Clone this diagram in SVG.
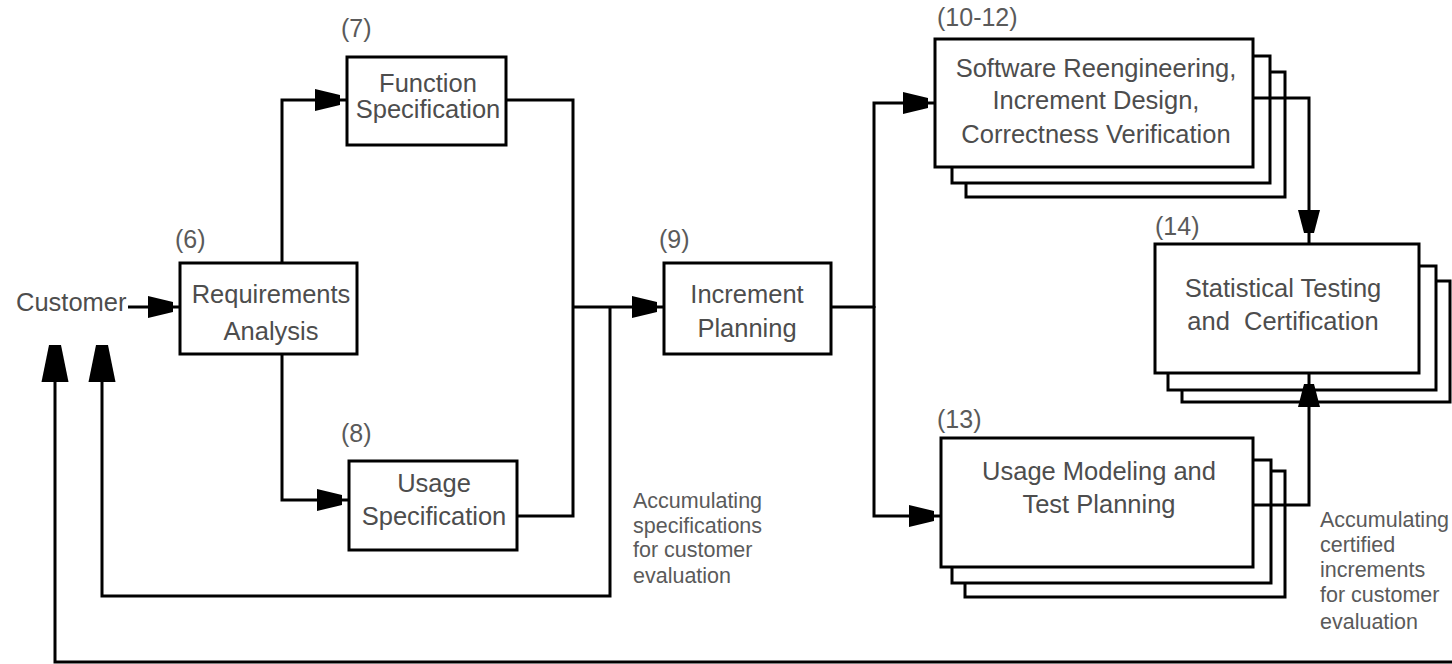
<svg xmlns="http://www.w3.org/2000/svg" width="1452" height="664" viewBox="0 0 1452 664">
  <style>
    .box { fill: #fff; stroke: #000; stroke-width: 3; }
    .wire { fill: none; stroke: #000; stroke-width: 3; stroke-linejoin: miter; }
    .t { font-family: "Liberation Sans", Arial, sans-serif; font-size: 25.5px; fill: #4d4d4d; text-anchor: middle; white-space: pre; }
    .lbl { font-family: "Liberation Sans", Arial, sans-serif; font-size: 25px; fill: #5a5a5a; }
    .note { font-family: "Liberation Sans", Arial, sans-serif; font-size: 21.5px; fill: #5a5a5a; }
    .cust { font-family: "Liberation Sans", Arial, sans-serif; font-size: 25.5px; fill: #4d4d4d; }
  </style>
  <defs>
    <!-- blunt filled arrowhead; tip sits a few px short of the path end -->
    <marker id="ah" markerUnits="userSpaceOnUse" orient="auto" viewBox="-40 -20 60 40" markerWidth="60" markerHeight="40" refX="7" refY="0">
      <path d="M0,-5 L0,5 L-25,11 L-25,-11 Z" fill="#000"/>
    </marker>
    <marker id="ahGap" markerUnits="userSpaceOnUse" orient="auto" viewBox="-40 -20 60 40" markerWidth="60" markerHeight="40" refX="11" refY="0">
      <path d="M0,-5 L0,5 L-23,11 L-23,-11 Z" fill="#000"/>
    </marker>
    <marker id="ahBig" markerUnits="userSpaceOnUse" orient="auto" viewBox="-45 -20 60 40" markerWidth="60" markerHeight="40" refX="0" refY="0">
      <path d="M0,-6 L0,6 L-37,13.5 L-37,-13.5 Z" fill="#000"/>
    </marker>
  </defs>

  <text class="cust" x="16" y="311">Customer</text>

  <g id="requirements-analysis">
    <text class="lbl" x="175" y="248">(6)</text>
    <rect class="box" x="180" y="263" width="177" height="91"/>
    <text class="t" x="271" y="303">Requirements</text>
    <text class="t" x="271" y="340">Analysis</text>
  </g>

  <g id="function-specification">
    <text class="lbl" x="341" y="37">(7)</text>
    <rect class="box" x="347" y="57" width="159" height="88"/>
    <text class="t" x="428" y="92">Function</text>
    <text class="t" x="428" y="118">Specification</text>
  </g>

  <g id="usage-specification">
    <text class="lbl" x="341" y="442">(8)</text>
    <rect class="box" x="349" y="461" width="168" height="89"/>
    <text class="t" x="434" y="492">Usage</text>
    <text class="t" x="434" y="525">Specification</text>
  </g>

  <g id="increment-planning">
    <text class="lbl" x="659" y="248">(9)</text>
    <rect class="box" x="664" y="263" width="167" height="91"/>
    <text class="t" x="747" y="303">Increment</text>
    <text class="t" x="747" y="337">Planning</text>
  </g>

  <g id="software-reengineering">
    <text class="lbl" x="937" y="26">(10-12)</text>
    <rect class="box" x="966" y="72" width="319" height="125"/>
    <rect class="box" x="952" y="56" width="318" height="127"/>
    <rect class="box" x="935" y="39" width="318" height="128"/>
    <text class="t" x="1096" y="77">Software Reengineering,</text>
    <text class="t" x="1096" y="109">Increment Design,</text>
    <text class="t" x="1096" y="143">Correctness Verification</text>
  </g>

  <g id="statistical-testing">
    <text class="lbl" x="1155" y="235">(14)</text>
    <rect class="box" x="1182" y="281" width="268" height="121"/>
    <rect class="box" x="1168" y="266" width="268" height="124"/>
    <rect class="box" x="1155" y="244" width="264" height="129"/>
    <text class="t" x="1283" y="297">Statistical Testing</text>
    <text class="t" x="1283" y="330">and  Certification</text>
  </g>

  <g id="usage-modeling">
    <text class="lbl" x="937" y="428">(13)</text>
    <rect class="box" x="965" y="471" width="320" height="126"/>
    <rect class="box" x="952" y="460" width="319" height="123"/>
    <rect class="box" x="941" y="438" width="312" height="129"/>
    <text class="t" x="1099" y="480">Usage Modeling and</text>
    <text class="t" x="1099" y="513">Test Planning</text>
  </g>

  <g id="note-specifications">
    <text class="note" x="633" y="508">Accumulating</text>
    <text class="note" x="633" y="533">specifications</text>
    <text class="note" x="633" y="557">for customer</text>
    <text class="note" x="633" y="583">evaluation</text>
  </g>

  <g id="note-increments">
    <text class="note" x="1320" y="527">Accumulating</text>
    <text class="note" x="1320" y="552">certified</text>
    <text class="note" x="1320" y="577">increments</text>
    <text class="note" x="1320" y="602">for customer</text>
    <text class="note" x="1320" y="629">evaluation</text>
  </g>

  <!-- connectors, drawn last so they run over the stacked back sheets -->
  <g id="connectors">
    <path class="wire" d="M128,307 H180" marker-end="url(#ah)"/>
    <path class="wire" d="M282,263 V100 H347" marker-end="url(#ah)"/>
    <path class="wire" d="M282,354 V500 H349" marker-end="url(#ah)"/>
    <path class="wire" d="M506,100 H573 V516 H517"/>
    <path class="wire" d="M573,307 H664" marker-end="url(#ah)"/>
    <path class="wire" d="M610,307 V596 H102 V345" marker-end="url(#ahBig)"/>
    <path class="wire" d="M831,307 H874"/>
    <path class="wire" d="M874,308 V103 H935" marker-end="url(#ah)"/>
    <path class="wire" d="M874,306 V516 H941" marker-end="url(#ah)"/>
    <path class="wire" d="M1253,98 H1309 V244" marker-end="url(#ahGap)"/>
    <path class="wire" d="M1253,505 H1309 V373" marker-end="url(#ahGap)"/>
    <path class="wire" d="M1452,662 H55 V345" marker-end="url(#ahBig)"/>
  </g>
</svg>
